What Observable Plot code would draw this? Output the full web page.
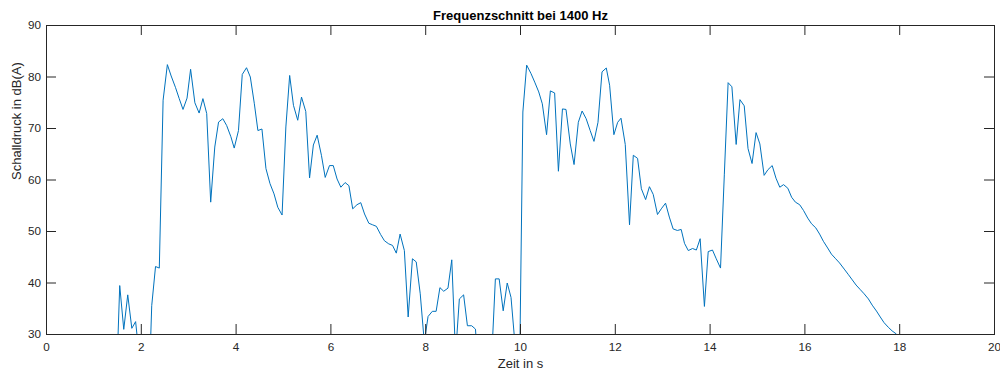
<!DOCTYPE html>
<html><head><meta charset="utf-8">
<script src="https://cdn.jsdelivr.net/npm/d3@7"></script>
<script src="https://cdn.jsdelivr.net/npm/@observablehq/plot@0.6"></script>
<style>body{margin:0;background:#fff} svg{display:block}</style>
</head><body><div id="chart"></div>
<script>
const title = "Frequenzschnitt bei 1400 Hz";
const xLabel = "Zeit in s";
const yLabel = "Schalldruck in dB(A)";
const xTicks = [0, 2, 4, 6, 8, 10, 12, 14, 16, 18, 20];
const yTicks = [30, 40, 50, 60, 70, 80, 90];

const time = [
  1.46, 1.545, 1.63, 1.714, 1.80, 1.88, 1.965, 2.05, 2.13, 2.22, 2.30, 2.38, 2.46, 2.55, 2.63, 2.72, 2.80, 2.88, 2.965,
  3.04, 3.13, 3.22, 3.30, 3.38, 3.464, 3.55, 3.63, 3.72, 3.80, 3.89, 3.96, 4.05, 4.13, 4.22, 4.30, 4.385, 4.46, 4.545,
  4.63, 4.715, 4.80, 4.88, 4.97, 5.05, 5.13, 5.21, 5.30, 5.38, 5.47, 5.55, 5.63, 5.71, 5.80, 5.88, 5.97, 6.05, 6.13,
  6.21, 6.30, 6.38, 6.46, 6.55, 6.63, 6.71, 6.80, 6.88, 6.96, 7.05, 7.13, 7.22, 7.30, 7.38, 7.46, 7.55, 7.63, 7.72,
  7.80, 7.885, 7.97, 8.05, 8.14, 8.22, 8.30, 8.38, 8.47, 8.55, 8.63, 8.71, 8.80, 8.88, 8.97, 9.05, 9.13, 9.22, 9.30,
  9.385, 9.47, 9.55, 9.635, 9.72, 9.80, 9.885, 9.97, 10.05, 10.13, 10.22, 10.30, 10.385, 10.46, 10.55, 10.63, 10.72,
  10.80, 10.885, 10.96, 11.05, 11.13, 11.22, 11.30, 11.385, 11.47, 11.55, 11.635, 11.72, 11.81, 11.88, 11.97, 12.05,
  12.12, 12.21, 12.30, 12.38, 12.47, 12.55, 12.64, 12.72, 12.80, 12.89, 12.97, 13.06, 13.14, 13.22, 13.31, 13.39,
  13.46, 13.54, 13.63, 13.71, 13.79, 13.88, 13.96, 14.05, 14.13, 14.22, 14.30, 14.38, 14.46, 14.55, 14.63, 14.72,
  14.80, 14.885, 14.97, 15.05, 15.14, 15.22, 15.31, 15.39, 15.47, 15.55, 15.64, 15.72, 15.80, 15.89, 15.97, 16.06,
  16.14, 16.23, 16.31, 16.39, 16.48, 16.56, 16.65, 16.73, 16.83, 16.92, 17.00, 17.08, 17.17, 17.25, 17.34, 17.42,
  17.51, 17.59, 17.67, 17.76, 17.84, 17.93, 18.01, 18.10, 18.18
];
const level = [
  16.5, 39.5, 31.0, 37.7, 31.2, 32.5, 25.0, 15.0, 10.0, 35.6, 43.2, 42.9, 75.5, 82.4, 80.2, 78.0, 75.8, 73.7, 75.9,
  81.5, 75.0, 73.0, 75.8, 72.9, 55.7, 66.4, 71.25, 71.9, 70.6, 68.4, 66.2, 69.6, 80.5, 81.8, 80.0, 74.8, 69.6, 69.9,
  62.2, 59.3, 57.3, 54.7, 53.2, 70.3, 80.3, 74.5, 71.6, 76.1, 73.3, 60.4, 66.8, 68.7, 64.8, 60.5, 62.8, 62.8, 60.2,
  58.6, 59.5, 58.9, 54.4, 55.2, 55.6, 53.4, 51.6, 51.3, 51.0, 49.4, 48.2, 47.6, 47.3, 45.8, 49.5, 46.3, 33.4, 44.7,
  44.1, 37.9, 28.5, 33.5, 34.5, 34.5, 39.1, 38.4, 39.0, 44.5, 26.0, 36.9, 37.7, 31.7, 31.7, 31.05, 20.0, 15.0, 15.0,
  24.0, 40.8, 40.8, 34.6, 40.0, 37.2, 28.0, 15.0, 73.2, 82.3, 80.7, 79.0, 77.1, 74.8, 68.8, 77.3, 76.9,
  61.7, 73.8, 73.7, 67.0, 63.0, 71.2, 73.4, 71.9, 69.6, 67.5, 71.2, 81.0, 81.75, 78.4, 68.8, 71.2,
  72.0, 66.9, 51.3, 64.8, 64.2, 58.3, 56.2, 58.7, 57.2, 53.3, 54.4, 55.5, 52.8, 50.5, 50.2, 50.4,
  47.7, 46.3, 46.7, 46.4, 48.6, 35.45, 46.1, 46.4, 44.7, 42.9, 61.0, 78.9, 78.1, 66.9, 75.6, 74.4,
  66.1, 63.2, 69.2, 67.0, 60.9, 62.0, 62.8, 60.35, 58.6, 59.1, 58.4, 56.65, 55.7, 55.2, 54.1, 52.6,
  51.5, 50.7, 49.5, 48.1, 46.8, 45.6, 44.7, 43.9, 42.7, 41.6, 40.6, 39.6, 38.7, 37.9, 36.9, 35.7,
  34.55, 33.4, 32.3, 31.4, 30.7, 30.1, 29.3, 28.5, 27.6
];

const data = time.map((t, i) => ({t, db: level[i]}));
const W = 1000, H = 372, mL = 46, mR = 6, mT = 25, mB = 38;
const fw = W - mL - mR, fh = H - mT - mB, tickLen = 10;
const axisColor = "#262626";
const font = "'Liberation Sans', Arial, Helvetica, sans-serif";

const chart = Plot.plot({
  width: W, height: H,
  marginLeft: mL, marginRight: mR, marginTop: mT, marginBottom: mB,
  style: {fontFamily: font, fontSize: "11.7px", color: axisColor, background: "#fff"},
  x: {domain: [0, 20]},
  y: {domain: [30, 90]},
  marks: [
    Plot.line(data, {x: "t", y: "db", stroke: "#0072BD", strokeWidth: 1, clip: true}),
    Plot.tickX(xTicks, {x: d => d, insetTop: fh - tickLen, stroke: axisColor}),
    Plot.tickX(xTicks, {x: d => d, insetBottom: fh - tickLen, stroke: axisColor}),
    Plot.tickY(yTicks, {y: d => d, insetRight: fw - tickLen, stroke: axisColor}),
    Plot.tickY(yTicks, {y: d => d, insetLeft: fw - tickLen, stroke: axisColor}),
    Plot.frame({stroke: axisColor}),
    Plot.axisX(xTicks, {anchor: "bottom", tickSize: 0, tickPadding: 8, label: null, fill: axisColor}),
    Plot.axisY(yTicks, {anchor: "left", tickSize: 0, tickPadding: 5.5, label: null, fill: axisColor}),
    Plot.text([xLabel], {frameAnchor: "bottom", dy: 29.5, text: d => d, fontSize: 13, lineAnchor: "middle", fill: axisColor}),
    Plot.text([yLabel], {frameAnchor: "left", dx: -30, rotate: -90, text: d => d, fontSize: 13, lineAnchor: "middle", fill: axisColor}),
    Plot.text([title], {frameAnchor: "top", dy: -9.5, text: d => d, fontWeight: "bold", fontSize: 13, lineAnchor: "middle", fill: "#000"})
  ]
});
document.getElementById("chart").appendChild(chart);
</script>
</body></html>
